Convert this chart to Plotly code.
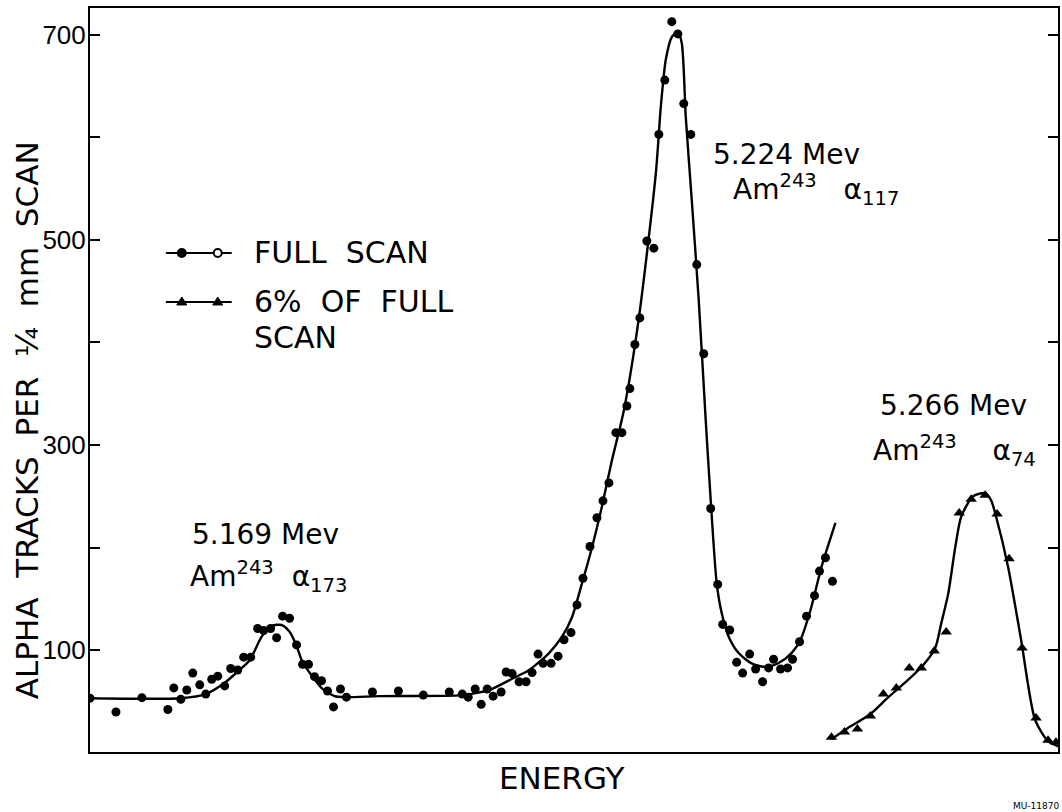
import plotly.graph_objects as go

# Full-scan alpha track counts: position along the plate vs tracks per 1/4 mm
full_x = [0.0, 2.6, 5.2, 7.8, 8.4, 9.1, 9.7, 10.3, 11.0, 11.6, 12.2, 12.8, 13.5, 14.1,
          14.8, 15.4, 16.1, 16.8, 17.4, 18.1, 18.7, 19.3, 20.0, 20.7, 21.3, 21.9, 22.5,
          23.2, 23.8, 24.4, 25.1, 25.7, 28.3, 30.9, 33.4, 36.0, 37.3, 37.9, 38.6, 39.2,
          39.8, 40.4, 41.2, 41.7, 42.3, 43.0, 43.7, 44.3, 44.9, 45.4, 46.2, 46.9, 47.5,
          48.2, 48.8, 49.4, 50.1, 50.8, 51.4, 52.0, 52.7, 53.3, 53.8, 54.1, 54.6, 55.1,
          55.8, 56.5, 57.0, 57.6, 58.3, 58.9, 59.5, 60.2, 60.8, 61.5, 62.2, 62.9, 63.4,
          64.1, 64.8, 65.4, 66.1, 66.7, 67.4, 68.0, 68.5, 69.2, 69.9, 70.4, 71.1, 71.8,
          72.6, 73.1, 73.7, 74.4]
full_y = [53, 39.5, 53.5, 42, 63, 52, 61, 77.5, 66, 57, 71.5, 74.5, 65, 82,
          80.5, 93, 93, 121, 119, 121, 112, 133, 131, 105, 86, 86, 74,
          70, 60, 44.5, 62, 54, 59, 60, 56, 59, 57, 54, 62, 47,
          62, 55, 59, 78.5, 77, 69, 69, 78, 96, 87, 87, 94, 110,
          117, 144, 170, 201, 229, 245.5, 263, 312, 312, 338, 355, 398, 424,
          499, 492, 603, 656, 713, 701, 633, 603, 476, 389, 238, 164, 125,
          119.5, 88, 77.5, 96, 81.5, 69, 82.5, 91, 81.5, 82.5, 91, 108, 133,
          153, 177, 190, 167]

# Hand-drawn smooth curve through the full-scan counts
full_curve_x = [0.0, 9.1, 11.6, 13.5, 14.8, 16.0, 17.2, 18.2, 19.2, 20.0, 20.7, 21.3,
                22.3, 23.3, 24.5, 25.7, 29.0, 37.3, 40.0, 42.3, 44.0, 46.0, 47.3, 48.3,
                49.3, 50.3, 51.3, 52.3, 53.5, 55.0, 56.7, 57.2, 57.7, 58.3, 58.9, 59.3,
                59.7, 60.3, 61.0, 61.7, 62.2, 62.8, 63.3, 64.0, 65.0, 66.3, 67.7, 69.0,
                70.3, 71.2, 72.2, 73.3, 74.7]
full_curve_y = [53, 53, 57, 68, 79, 90, 113, 123.5, 124.4, 117.7, 104, 88,
                74, 62, 55, 54, 55, 56, 61, 72, 80.5, 97, 113, 132,
                165, 200, 240, 285, 334, 424, 565, 630, 676, 698, 703, 692,
                620, 539, 441, 324, 246, 165, 136, 113, 97, 87, 83.4, 87.3,
                97, 110, 139, 181, 224]

# 6% of the full scan
part_x = [74.3, 75.6, 76.9, 78.2, 79.5, 80.8, 82.1, 83.3, 84.6, 85.8, 87.1, 88.3,
          89.7, 90.9, 92.1, 93.4, 94.8, 96.0, 96.8]
part_y = [15, 20, 23, 35.6, 57, 63, 82.4, 82.4, 99, 117.6, 233.7, 247,
          251, 232.7, 189, 102, 33.7, 12, 10]

part_curve_x = [74.3, 75.8, 78.2, 80.0, 82.0, 83.5, 84.7, 85.3, 86.0, 86.7, 87.3, 88.5,
                89.7, 90.3, 90.8, 92.0, 93.3, 94.7, 96.0, 97.0]
part_curve_y = [13, 23, 37.6, 54, 71, 85.4, 102, 126, 155, 200, 230, 250,
                253, 246, 230, 181, 110, 32, 11, 6]

# Labelled ticks every 200, plain tick marks every 100
y_tick_vals = [100, 300, 500, 700]
y_tick_text = ["100", "300", "500", "700"]

INK = "black"
LABEL_FONT = dict(family="DejaVu Sans, Liberation Sans, Arial", size=28, color=INK)
NB = "\u00a0"

fig = go.Figure()

fig.add_trace(go.Scatter(x=full_curve_x, y=full_curve_y, mode="lines",
                         line=dict(color=INK, width=2.4, shape="spline", smoothing=0.7),
                         hoverinfo="skip", showlegend=False))
fig.add_trace(go.Scatter(x=full_x, y=full_y, mode="markers", name="FULL SCAN",
                         marker=dict(symbol="circle", size=9, color=INK),
                         showlegend=False))
fig.add_trace(go.Scatter(x=part_curve_x, y=part_curve_y, mode="lines",
                         line=dict(color=INK, width=2.4, shape="spline", smoothing=0.7),
                         hoverinfo="skip", showlegend=False))
fig.add_trace(go.Scatter(x=part_x, y=part_y, mode="markers", name="6% OF FULL SCAN",
                         marker=dict(symbol="triangle-up", size=10, color=INK),
                         showlegend=False))

# Legend key drawn as shapes
shapes = []
key_x0, key_x1 = 7.6, 14.2
key_rows = [487.3, 439.5]
key_marks = [9.2, 12.8]
for row_i, ky in enumerate(key_rows):
    shapes.append(dict(type="line", xref="x", yref="y", x0=key_x0, x1=key_x1, y0=ky, y1=ky,
                       line=dict(color=INK, width=2)))
    for j, kx in enumerate(key_marks):
        if row_i == 0:
            shapes.append(dict(type="circle", xref="x", yref="y",
                               xsizemode="pixel", ysizemode="pixel",
                               xanchor=kx, yanchor=ky, x0=-4, x1=4, y0=-4, y1=4,
                               fillcolor=INK if j == 0 else "white",
                               line=dict(color=INK, width=2)))
        else:
            shapes.append(dict(type="path", xref="x", yref="y",
                               xsizemode="pixel", ysizemode="pixel",
                               xanchor=kx, yanchor=ky,
                               path="M-5,-3 L5,-3 L0,5 Z",
                               fillcolor=INK, line=dict(color=INK, width=1)))

annotations = [
    # legend text
    dict(x=16.2, y=487.3, text="FULL" + NB + " SCAN", xanchor="left", yanchor="middle",
         font=dict(LABEL_FONT, size=30)),
    dict(x=16.2, y=439.5, text="6%" + NB + " OF" + NB + " FULL", xanchor="left", yanchor="middle",
         font=dict(LABEL_FONT, size=30)),
    dict(x=16.2, y=405, text="SCAN", xanchor="left", yanchor="middle",
         font=dict(LABEL_FONT, size=30)),
    # peak labels
    dict(x=10.0, y=213, text="5.169 Mev", xanchor="left", yanchor="middle", font=LABEL_FONT),
    dict(x=9.8, y=172, text="Am<sup>243</sup>" + NB + " α<sub>173</sub>", xanchor="left",
         yanchor="middle", font=LABEL_FONT),
    dict(x=62.2, y=583, text="5.224 Mev", xanchor="left", yanchor="middle", font=LABEL_FONT),
    dict(x=64.2, y=549, text="Am<sup>243</sup>" + NB * 2 + " α<sub>117</sub>", xanchor="left",
         yanchor="middle", font=LABEL_FONT),
    dict(x=79.0, y=339, text="5.266 Mev", xanchor="left", yanchor="middle", font=LABEL_FONT),
    dict(x=78.3, y=295, text="Am<sup>243</sup>" + NB * 3 + " α<sub>74</sub>", xanchor="left",
         yanchor="middle", font=LABEL_FONT),
    # axis titles
    dict(xref="paper", yref="paper", x=0, xshift=-63, y=0.446, textangle=-90,
         text=(NB * 2).join(["ALPHA", "TRACKS", "PER", "¼", "mm", "SCAN"]),
         xanchor="center", yanchor="middle", font=dict(LABEL_FONT, size=31)),
    dict(xref="paper", yref="paper", x=0.4866, y=-0.035, text="ENERGY",
         xanchor="center", yanchor="middle", font=dict(LABEL_FONT, size=31)),
    dict(xref="paper", yref="paper", x=0.951, y=-0.063, text="MU-11870",
         xanchor="left", yanchor="top", font=dict(LABEL_FONT, size=9)),
]
for a in annotations:
    a.setdefault("xref", "x")
    a.setdefault("yref", "y")
    a["showarrow"] = False

fig.update_layout(
    width=1062, height=812,
    margin=dict(l=90, r=2, t=8, b=60),
    paper_bgcolor="white", plot_bgcolor="white",
    shapes=shapes, annotations=annotations, showlegend=False,
)
fig.update_xaxes(range=[0, 97], showgrid=False, zeroline=False, showticklabels=False,
                 ticks="", showline=True, mirror=True, linecolor=INK, linewidth=2)
fig.update_yaxes(range=[0.5, 726.3], tickvals=y_tick_vals, ticktext=y_tick_text,
                 ticks="inside", ticklen=10, tickwidth=1.5, tickcolor=INK,
                 minor=dict(ticks="inside", ticklen=10, tickwidth=1.5, tickcolor=INK,
                            tick0=0, dtick=100),
                 ticklabelstandoff=-3,
                 showgrid=False, zeroline=False, showline=True, mirror="ticks",
                 linecolor=INK, linewidth=2,
                 tickfont=dict(family="Liberation Sans, Arial", size=26, color=INK))

fig.write_html("out.html")
